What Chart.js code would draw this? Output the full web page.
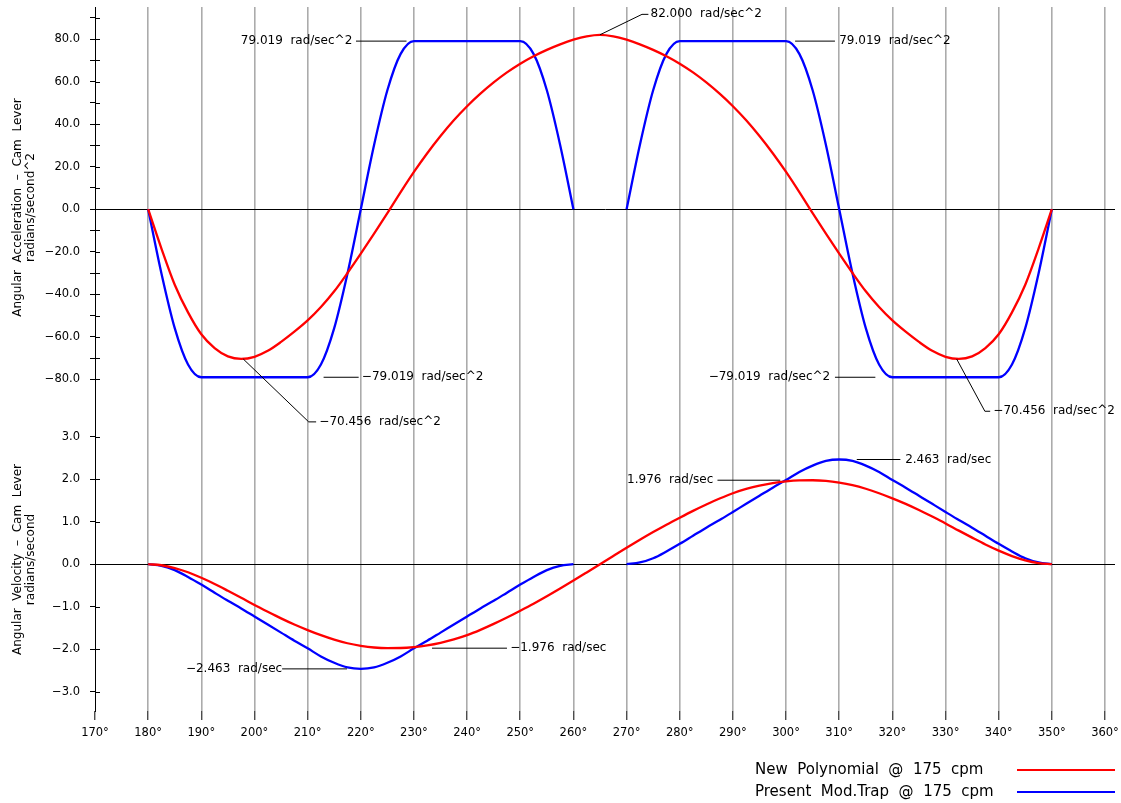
<!DOCTYPE html>
<html>
<head>
<meta charset="utf-8">
<script src="https://cdn.jsdelivr.net/npm/chart.js@4/dist/chart.umd.min.js"></script>
<style>
  html, body { margin: 0; background: #fff; }
  #wrap { width: 1121px; height: 803px; }
</style>
</head>
<body>
<div id="wrap"><canvas id="c"></canvas></div>
<script>
// cam lever motion, 180..350 deg, every 2.5 deg
const angles = [
  180, 182.5, 185, 187.5, 190, 192.5, 195, 197.5, 200, 202.5, 205, 207.5,
  210, 212.5, 215, 217.5, 220, 222.5, 225, 227.5, 230, 232.5, 235, 237.5,
  240, 242.5, 245, 247.5, 250, 252.5, 255, 257.5, 260, 262.5, 265, 267.5,
  270, 272.5, 275, 277.5, 280, 282.5, 285, 287.5, 290, 292.5, 295, 297.5,
  300, 302.5, 305, 307.5, 310, 312.5, 315, 317.5, 320, 322.5, 325, 327.5,
  330, 332.5, 335, 337.5, 340, 342.5, 345, 347.5, 350
];

// acceleration, rad/sec^2
const polyAccel = [
  0, -18.5, -35.5, -48.5, -58.8, -65.3, -69.2, -70.4, -69.4, -66.6, -62.4, -57.6,
  -52.3, -46.0, -38.6, -30.0, -20.9, -11.5, -1.9, 8.0, 17.5, 26.3, 34.4, 41.8,
  48.4, 54.3, 59.6, 64.3, 68.4, 71.9, 74.9, 77.5, 79.7, 81.3, 82.0, 81.3,
  79.7, 77.5, 74.9, 71.9, 68.4, 64.3, 59.6, 54.3, 48.4, 41.8, 34.4, 26.3,
  17.5, 8.0, -1.9, -11.5, -20.9, -30.0, -38.6, -46.0, -52.3, -57.6, -62.4, -66.6,
  -69.4, -70.4, -69.2, -65.3, -58.8, -48.5, -35.5, -18.5, 0
];
const trapAccel = [
  0, -30.2, -55.9, -73.0, -79.02, -79.02, -79.02, -79.02, -79.02, -79.02, -79.02, -79.02,
  -79.02, -73.0, -55.9, -30.2, 0, 30.2, 55.9, 73.0, 79.02, 79.02, 79.02, 79.02,
  79.02, 79.02, 79.02, 79.02, 79.02, 73.0, 55.9, 30.2, 0, null, null, null,
  0, 30.2, 55.9, 73.0, 79.02, 79.02, 79.02, 79.02, 79.02, 79.02, 79.02, 79.02,
  79.02, 73.0, 55.9, 30.2, 0, -30.2, -55.9, -73.0, -79.02, -79.02, -79.02, -79.02,
  -79.02, -79.02, -79.02, -79.02, -79.02, -73.0, -55.9, -30.2, 0
];

// velocity, rad/sec
const polyVel = [
  0, -0.025, -0.09, -0.19, -0.32, -0.465, -0.625, -0.79, -0.96, -1.12, -1.275, -1.42,
  -1.55, -1.67, -1.775, -1.86, -1.92, -1.96, -1.975, -1.972, -1.95, -1.91, -1.85, -1.77,
  -1.67, -1.545, -1.405, -1.255, -1.095, -0.93, -0.755, -0.573, -0.386, -0.194, 0, 0.194,
  0.386, 0.573, 0.755, 0.93, 1.095, 1.255, 1.405, 1.545, 1.67, 1.77, 1.85, 1.91,
  1.95, 1.972, 1.975, 1.96, 1.92, 1.86, 1.775, 1.67, 1.55, 1.42, 1.275, 1.12,
  0.96, 0.79, 0.625, 0.465, 0.32, 0.19, 0.09, 0.025, 0
];
const trapVel = [
  0, -0.04, -0.14, -0.3, -0.48, -0.67, -0.86, -1.04, -1.23, -1.42, -1.61, -1.8,
  -1.98, -2.17, -2.32, -2.43, -2.463, -2.43, -2.32, -2.17, -1.98, -1.8, -1.61, -1.42,
  -1.23, -1.04, -0.86, -0.67, -0.48, -0.3, -0.14, -0.04, 0, null, null, null,
  0, 0.04, 0.14, 0.3, 0.48, 0.67, 0.86, 1.04, 1.23, 1.42, 1.61, 1.8,
  1.98, 2.17, 2.32, 2.43, 2.463, 2.43, 2.32, 2.17, 1.98, 1.8, 1.61, 1.42,
  1.23, 1.04, 0.86, 0.67, 0.48, 0.3, 0.14, 0.04, 0
];

const degTicks   = [170, 180, 190, 200, 210, 220, 230, 240, 250, 260, 270, 280, 290, 300, 310, 320, 330, 340, 350, 360];
const accelTicks = [-80, -70, -60, -50, -40, -30, -20, -10, 0, 10, 20, 30, 40, 50, 60, 70, 80, 90];
const velTicks   = [-3, -2, -1, 0, 1, 2, 3];

const seriesNames = ['New  Polynomial  @  175  cpm', 'Present  Mod.Trap  @  175  cpm'];

// callouts: leader path and label, in data units of the given axis
const callouts = [
  { axis: 'y',  path: [[265, 82], [272.9, 91.6], [274.1, 91.6]], at: [274.5, 91.6], align: 'left',  text: '82.000  rad/sec^2' },
  { axis: 'y',  path: [[219.1, 79.02], [228.6, 79.02]],          at: [218.4, 79.02], align: 'right', text: '79.019  rad/sec^2' },
  { axis: 'y',  path: [[301.7, 79.02], [309.2, 79.02]],          at: [310.0, 79.02], align: 'left',  text: '79.019  rad/sec^2' },
  { axis: 'y',  path: [[213.0, -79.02], [219.6, -79.02]],        at: [220.2, -79.02], align: 'left', text: '\u221279.019  rad/sec^2' },
  { axis: 'y',  path: [[309.2, -79.02], [316.8, -79.02]],        at: [308.3, -79.02], align: 'right', text: '\u221279.019  rad/sec^2' },
  { axis: 'y',  path: [[197.9, -70.46], [210.2, -100], [211.6, -100]], at: [212.2, -100], align: 'left', text: '\u221270.456  rad/sec^2' },
  { axis: 'y',  path: [[332.1, -70.46], [337.4, -95], [338.4, -95]],   at: [339.0, -95],  align: 'left', text: '\u221270.456  rad/sec^2' },
  { axis: 'yv', path: [[205.2, -2.463], [217.4, -2.463]], at: [205.2, -2.463], align: 'right', text: '\u22122.463  rad/sec' },
  { axis: 'yv', path: [[233.4, -1.976], [247.5, -1.976]], at: [248.1, -1.976], align: 'left',  text: '\u22121.976  rad/sec' },
  { axis: 'yv', path: [[287.1, 1.976], [298.9, 1.976]],   at: [286.3, 1.976],  align: 'right', text: '1.976  rad/sec' },
  { axis: 'yv', path: [[313.3, 2.463], [321.5, 2.463]],   at: [322.4, 2.463],  align: 'left',  text: '2.463  rad/sec' }
];

const FONT = "'DejaVu Sans', sans-serif";
const RED  = '#ff0000';
const BLUE = '#0000ff';

const pts = vals => angles.map((a, i) => ({ x: a, y: vals[i] }));
const fmt = (v, d) => (v < 0 ? '\u2212' : '') + Math.abs(v).toFixed(d);

function line(label, data, color, axis) {
  return {
    label, data: pts(data), yAxisID: axis,
    borderColor: color, borderWidth: 2.3, pointRadius: 0,
    cubicInterpolationMode: 'monotone', spanGaps: false, fill: false
  };
}

// no extra padding from the end tick labels
function noPad(s) {
  s.paddingTop = 0; s.paddingBottom = 0; s.paddingLeft = 0; s.paddingRight = 0;
}

// short tick stubs on the inside of the left axis
const innerTicks = {
  id: 'innerTicks',
  afterDraw(chart) {
    const ctx = chart.ctx;
    ctx.save();
    ctx.strokeStyle = '#000';
    ctx.lineWidth = 1;
    ['y', 'yv'].forEach(id => {
      const s = chart.scales[id];
      s.ticks.forEach(t => {
        const py = Math.round(s.getPixelForValue(t.value)) + 0.5;
        ctx.beginPath();
        ctx.moveTo(s.right, py);
        ctx.lineTo(s.right + 5, py);
        ctx.stroke();
      });
    });
    ctx.restore();
  }
};

const calloutPlugin = {
  id: 'callouts',
  afterDatasetsDraw(chart) {
    const ctx = chart.ctx;
    const xs  = chart.scales.x;
    ctx.save();
    ctx.strokeStyle = '#000';
    ctx.lineWidth = 1;
    ctx.fillStyle = '#000';
    ctx.font = `12px ${FONT}`;
    ctx.textBaseline = 'middle';
    callouts.forEach(c => {
      const ys = chart.scales[c.axis];
      ctx.beginPath();
      c.path.forEach(([a, v], i) => {
        const px = xs.getPixelForValue(a), py = ys.getPixelForValue(v);
        if (i === 0) ctx.moveTo(px, py); else ctx.lineTo(px, py);
      });
      ctx.stroke();
      ctx.textAlign = c.align;
      ctx.fillText(c.text, xs.getPixelForValue(c.at[0]), ys.getPixelForValue(c.at[1]));
    });
    ctx.restore();
  }
};

const legendPlugin = {
  id: 'sideLegend',
  afterDraw(chart) {
    const ctx = chart.ctx;
    ctx.save();
    ctx.font = `15px ${FONT}`;
    ctx.textBaseline = 'middle';
    ctx.textAlign = 'left';
    ctx.fillStyle = '#000';
    [0, 1].forEach(i => {
      const ds = chart.data.datasets[i];
      const y = 770 + i * 22;
      ctx.fillText(ds.label, 755, y);
      ctx.strokeStyle = ds.borderColor;
      ctx.lineWidth = 2.2;
      ctx.beginPath();
      ctx.moveTo(1017, y);
      ctx.lineTo(1115, y);
      ctx.stroke();
    });
    ctx.restore();
  }
};

const yGrid = {
  color: c => (c.tick && c.tick.value === 0 ? '#000' : 'rgba(0,0,0,0)'),
  lineWidth: 1,
  tickColor: '#000',
  tickWidth: 1,
  tickLength: 5
};

new Chart(document.getElementById('c'), {
  type: 'line',
  data: {
    datasets: [
      line(seriesNames[0], polyAccel, RED,  'y'),
      line(seriesNames[1], trapAccel, BLUE, 'y'),
      line(seriesNames[0], polyVel,   RED,  'yv'),
      line(seriesNames[1], trapVel,   BLUE, 'yv')
    ]
  },
  options: {
    responsive: true,
    maintainAspectRatio: false,
    animation: false,
    devicePixelRatio: 1,
    layout: { padding: { top: 7, right: 6, bottom: 0, left: 0 } },
    plugins: { legend: { display: false }, tooltip: { enabled: false } },
    scales: {
      x: {
        type: 'linear', position: 'bottom',
        min: 170, max: 361.88,
        afterBuildTicks: s => { s.ticks = degTicks.map(v => ({ value: v })); },
        afterFit: s => { s.height = 92; noPad(s); },
        ticks: { autoSkip: false, maxRotation: 0, padding: 6, color: '#000',
                 font: { family: FONT, size: 11.5 }, callback: v => v + '\u00b0' },
        grid: {
          color: c => (c.tick && c.tick.value === 170 ? 'rgba(0,0,0,0)' : '#ababab'),
          lineWidth: 1.6, tickColor: '#000', tickWidth: 1, tickLength: 9
        },
        border: { display: false }
      },
      yv: {
        type: 'linear', position: 'left', stack: 'panels', stackWeight: 303,
        min: -3.454, max: 3.675,
        afterBuildTicks: s => { s.ticks = velTicks.map(v => ({ value: v })); },
        afterFit: s => { s.width = 95; noPad(s); },
        ticks: { autoSkip: false, padding: 10, color: '#000', font: { family: FONT, size: 11.5 },
                 callback: v => fmt(v, 1) },
        grid: yGrid,
        border: { display: true, color: '#000', width: 1 },
        title: { display: true, color: '#000', font: { family: FONT, size: 12, lineHeight: 1.1 },
                 padding: { top: 11, bottom: 0 },
                 text: ['Angular  Velocity  \u2013  Cam  Lever', 'radians/second'] }
      },
      y: {
        type: 'linear', position: 'left', stack: 'panels', stackWeight: 401,
        min: -93.47, max: 95.06,
        afterBuildTicks: s => { s.ticks = accelTicks.map(v => ({ value: v })); },
        afterFit: s => { s.width = 95; noPad(s); },
        ticks: { autoSkip: false, padding: 10, color: '#000', font: { family: FONT, size: 11.5 },
                 callback: v => (v % 20 === 0 ? fmt(v, 1) : '') },
        grid: yGrid,
        border: { display: true, color: '#000', width: 1 },
        title: { display: true, color: '#000', font: { family: FONT, size: 12, lineHeight: 1.1 },
                 padding: { top: 11, bottom: 0 },
                 text: ['Angular  Acceleration  \u2013  Cam  Lever', 'radians/second^2'] }
      }
    }
  },
  plugins: [innerTicks, calloutPlugin, legendPlugin]
});
</script>
</body>
</html>
